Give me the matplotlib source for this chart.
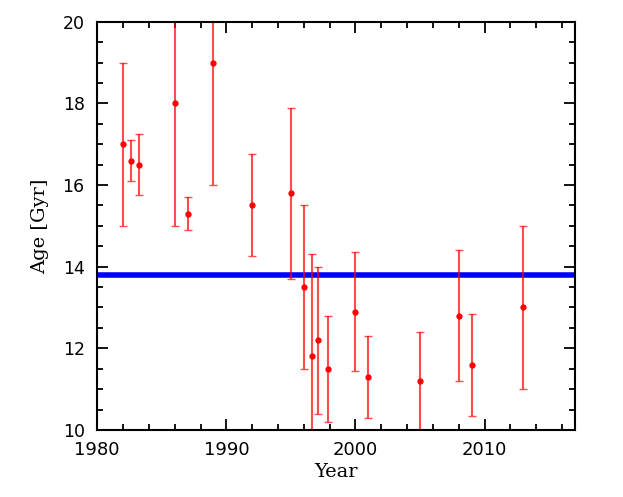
import numpy as np
import matplotlib.pyplot as plt
from matplotlib.ticker import MultipleLocator

# data
years = [1982.0, 1982.6, 1983.2, 1986.0, 1987.0, 1989.0, 1992.0, 1995.0, 1996.0,
         1996.6, 1997.1, 1997.9, 2000.0, 2001.0, 2005.0, 2008.0, 2009.0, 2013.0]
ages = [17.0, 16.6, 16.5, 18.0, 15.3, 19.0, 15.5, 15.8, 13.5,
        11.8, 12.2, 11.5, 12.9, 11.3, 11.2, 12.8, 11.6, 13.0]
errs = [2.0, 0.5, 0.75, 3.0, 0.4, 3.0, 1.25, 2.1, 2.0,
        2.5, 1.8, 1.3, 1.45, 1.0, 1.2, 1.6, 1.25, 2.0]
age_universe = 13.8

fig = plt.figure(figsize=(6.23, 4.97), dpi=100)
ax = fig.add_axes([0.156, 0.135, 0.767, 0.821])

ax.axhline(age_universe, color="#0000ff", lw=4, zorder=1)
ax.errorbar(years, ages, yerr=errs, fmt="o", color="red", ms=3.5,
            ecolor=(1, 0, 0, 0.7), elinewidth=1.5, capsize=3, capthick=1, zorder=2)

ax.set_xlim(1980, 2017)
ax.set_ylim(10, 20)
ax.xaxis.set_major_locator(MultipleLocator(10))
ax.xaxis.set_minor_locator(MultipleLocator(2))
ax.yaxis.set_major_locator(MultipleLocator(2))
ax.yaxis.set_minor_locator(MultipleLocator(0.5))
ax.tick_params(which="both", direction="in", top=True, right=True, width=1.3)
ax.tick_params(which="major", length=8)
ax.tick_params(which="minor", length=4)
ax.tick_params(axis="x", which="major", pad=8)
ax.tick_params(axis="y", which="major", pad=9)
for s in ax.spines.values():
    s.set_linewidth(1.5)

for lab in ax.get_xticklabels():
    lab.set_family("DejaVu Sans")
    lab.set_fontsize(13)
for lab in ax.get_yticklabels():
    lab.set_family("DejaVu Sans")
    lab.set_fontsize(12.5)

ax.set_xlabel("Year", family="DejaVu Serif", fontsize=14, labelpad=3)
ax.set_ylabel("Age [Gyr]", family="DejaVu Serif", fontsize=14, labelpad=10)

fig.savefig("out.png", dpi=100)
